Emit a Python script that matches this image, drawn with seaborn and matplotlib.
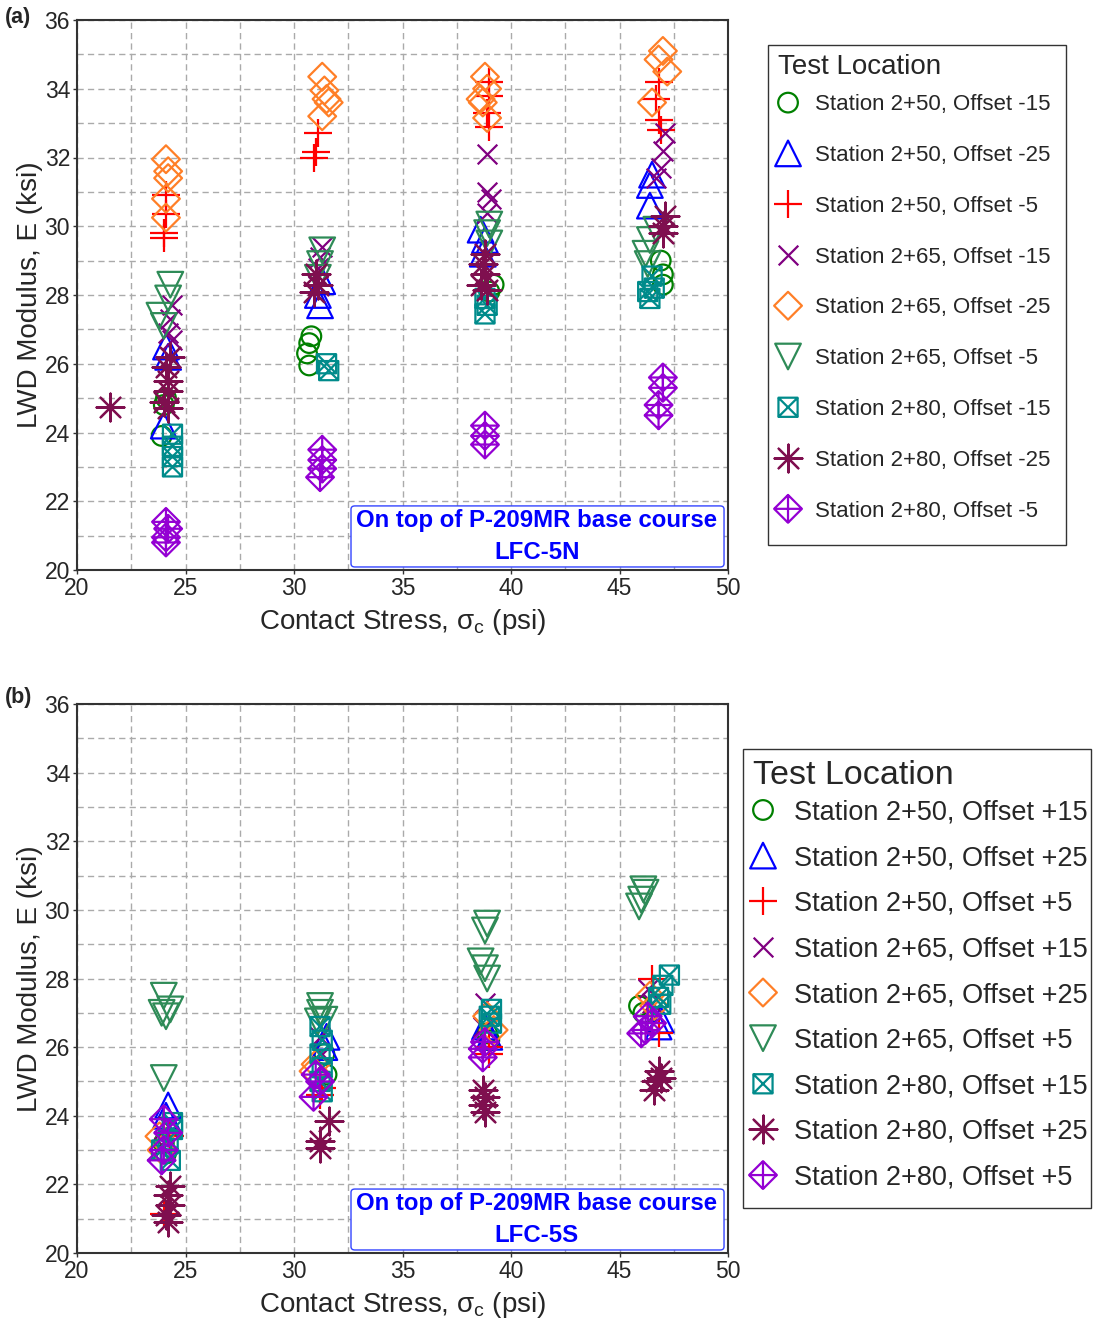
import numpy as np
import pandas as pd
import matplotlib
matplotlib.use("Agg")
import matplotlib.pyplot as plt
from matplotlib.path import Path
from matplotlib.markers import MarkerStyle
from matplotlib.patches import FancyBboxPatch, Rectangle
import seaborn as sns

# ---------------- data : panel (a) LFC-5N ----------------
A_LABELS = ["Station 2+50, Offset -15", "Station 2+50, Offset -25", "Station 2+50, Offset -5",
            "Station 2+65, Offset -15", "Station 2+65, Offset -25", "Station 2+65, Offset -5",
            "Station 2+80, Offset -15", "Station 2+80, Offset -25", "Station 2+80, Offset -5"]

a_s250_o15_x = [24.0, 23.9, 24.1, 30.8, 30.7, 30.6, 30.7, 39.2, 39.0, 46.9, 47.0, 47.0]
a_s250_o15_y = [24.8, 23.9, 25.0, 26.8, 26.6, 26.3, 25.95, 28.3, 28.1, 29.0, 28.6, 28.3]
a_s250_o25_x = [24.1, 24.2, 24.0, 31.3, 31.1, 31.2, 38.6, 38.8, 38.7, 46.5, 46.4, 46.4]
a_s250_o25_y = [26.5, 26.2, 24.2, 28.4, 28.0, 27.7, 29.9, 29.6, 29.2, 31.5, 31.2, 30.6]
a_s250_o5_x = [24.1, 24.1, 24.0, 24.0, 31.1, 31.0, 30.9, 39.0, 39.0, 38.9, 39.0, 46.8, 46.7, 46.8, 46.9]
a_s250_o5_y = [30.9, 30.35, 29.8, 29.65, 32.7, 32.15, 32.0, 34.2, 33.8, 33.3, 32.9, 34.2, 33.7, 33.1, 32.8]
a_s265_o15_x = [24.4, 24.3, 24.2, 24.4, 31.3, 31.2, 31.1, 38.9, 38.9, 39.1, 38.9, 47.1, 47.0, 46.9, 46.7]
a_s265_o15_y = [27.7, 27.3, 26.9, 26.7, 29.4, 29.1, 28.8, 32.1, 31.0, 30.8, 30.4, 32.7, 32.2, 31.7, 31.4]
a_s265_o25_x = [24.1, 24.2, 24.2, 24.1, 24.1, 31.3, 31.4, 31.5, 31.6, 31.3, 38.8, 38.9, 38.6, 38.7, 38.9,
                47.0, 46.8, 47.2, 46.5]
a_s265_o25_y = [31.95, 31.6, 31.4, 30.8, 30.25, 34.35, 33.95, 33.7, 33.6, 33.2, 34.35, 34.0, 33.7, 33.6, 33.15,
                35.1, 34.85, 34.5, 33.6]
a_s265_o5_x = [24.3, 24.2, 23.8, 24.0, 31.3, 31.2, 31.1, 39.0, 38.9, 39.0, 46.7, 46.4, 46.2, 46.3]
a_s265_o5_y = [28.3, 27.9, 27.4, 27.1, 29.3, 28.9, 28.5, 30.05, 29.8, 29.5, 29.9, 29.6, 29.2, 28.9]
a_s280_o15_x = [24.4, 24.4, 24.4, 24.4, 31.5, 31.6, 38.8, 38.9, 38.8, 46.5, 46.3, 46.4, 46.6]
a_s280_o15_y = [23.95, 23.6, 23.3, 23.0, 26.0, 25.8, 27.9, 27.7, 27.45, 28.55, 28.1, 27.9, 28.2]
a_s280_o25_x = [21.5, 24.3, 24.1, 24.2, 24.2, 24.0, 24.2, 31.0, 31.1, 30.9, 38.8, 38.7, 38.8, 38.6, 38.9,
                47.1, 47.0, 47.0]
a_s280_o25_y = [24.75, 26.2, 25.9, 25.5, 25.2, 24.9, 24.7, 28.6, 28.3, 28.1, 29.2, 28.9, 28.6, 28.3, 28.15,
                30.3, 30.0, 29.8]
a_s280_o5_x = [24.1, 24.2, 24.1, 24.1, 31.3, 31.3, 31.3, 31.2, 38.8, 38.8, 38.8, 47.0, 47.0, 46.8, 46.8]
a_s280_o5_y = [21.4, 21.2, 20.95, 20.8, 23.5, 23.2, 22.95, 22.7, 24.2, 23.9, 23.65, 25.6, 25.3, 24.8, 24.5]

# ---------------- data : panel (b) LFC-5S ----------------
B_LABELS = ["Station 2+50, Offset +15", "Station 2+50, Offset +25", "Station 2+50, Offset +5",
            "Station 2+65, Offset +15", "Station 2+65, Offset +25", "Station 2+65, Offset +5",
            "Station 2+80, Offset +15", "Station 2+80, Offset +25", "Station 2+80, Offset +5"]

b_s250_o15_x = [24.0, 24.1, 31.4, 31.5, 38.9, 39.0, 45.9, 46.1]
b_s250_o15_y = [23.2, 22.9, 25.8, 25.2, 26.4, 26.2, 27.2, 27.0]
b_s250_o25_x = [24.2, 24.1, 31.5, 31.4, 38.8, 39.0, 46.9, 46.8]
b_s250_o25_y = [24.3, 24.0, 26.3, 26.0, 26.6, 26.3, 26.8, 26.6]
b_s250_o5_x = [24.3, 24.0, 31.3, 31.2, 39.0, 39.0, 46.5, 46.8]
b_s250_o5_y = [23.4, 21.15, 24.8, 24.6, 26.0, 25.8, 28.0, 26.4]
b_s265_o15_x = [24.2, 24.0, 31.2, 31.3, 31.2, 38.8, 38.7, 46.3, 46.5]
b_s265_o15_y = [23.7, 23.1, 26.3, 25.8, 25.0, 27.3, 26.6, 27.7, 27.3]
b_s265_o25_x = [23.8, 23.9, 31.0, 30.9, 38.9, 39.2, 46.4, 46.6]
b_s265_o25_y = [23.4, 23.0, 25.5, 25.3, 26.9, 26.5, 27.5, 27.2]
b_s265_o5_x = [24.0, 23.9, 24.1, 24.3, 24.0, 31.2, 31.2, 31.4, 31.1, 38.9, 38.8, 38.6, 38.8, 38.9,
               46.1, 46.2, 46.0, 45.9]
b_s265_o5_y = [27.5, 27.0, 26.9, 27.1, 25.1, 27.2, 27.0, 26.8, 26.75, 29.6, 29.4, 28.5, 28.3, 28.0,
               30.6, 30.5, 30.3, 30.1]
b_s280_o15_x = [24.4, 24.4, 24.2, 23.9, 24.3, 31.2, 31.3, 31.2, 31.3, 31.2, 31.3, 39.1, 39.0, 39.1,
                47.3, 47.0, 46.8, 46.9]
b_s280_o15_y = [23.8, 23.6, 23.3, 23.0, 22.7, 26.6, 26.2, 25.8, 25.4, 25.0, 24.7, 27.1, 26.9, 26.7,
                28.1, 27.8, 27.45, 27.25]
b_s280_o25_x = [24.3, 24.2, 24.3, 24.1, 24.2, 31.6, 31.2, 31.2, 38.7, 38.8, 38.7, 38.8, 46.8, 46.9, 46.7, 46.6]
b_s280_o25_y = [21.95, 21.7, 21.4, 21.1, 20.9, 23.85, 23.25, 23.05, 24.75, 24.55, 24.3, 24.1, 25.3, 25.1, 25.0, 24.75]
b_s280_o5_x = [24.0, 24.2, 24.0, 23.9, 31.0, 31.2, 30.9, 38.8, 38.7, 38.7, 46.3, 46.5, 46.2, 46.0]
b_s280_o5_y = [23.9, 23.5, 23.0, 22.7, 25.2, 25.0, 24.55, 26.15, 25.95, 25.7, 26.9, 26.7, 26.5, 26.4]

A_X = [a_s250_o15_x, a_s250_o25_x, a_s250_o5_x, a_s265_o15_x, a_s265_o25_x, a_s265_o5_x,
       a_s280_o15_x, a_s280_o25_x, a_s280_o5_x]
A_Y = [a_s250_o15_y, a_s250_o25_y, a_s250_o5_y, a_s265_o15_y, a_s265_o25_y, a_s265_o5_y,
       a_s280_o15_y, a_s280_o25_y, a_s280_o5_y]
B_X = [b_s250_o15_x, b_s250_o25_x, b_s250_o5_x, b_s265_o15_x, b_s265_o25_x, b_s265_o5_x,
       b_s280_o15_x, b_s280_o25_x, b_s280_o5_x]
B_Y = [b_s250_o15_y, b_s250_o25_y, b_s250_o5_y, b_s265_o15_y, b_s265_o25_y, b_s265_o5_y,
       b_s280_o15_y, b_s280_o25_y, b_s280_o5_y]

X_TICKS = [20, 25, 30, 35, 40, 45, 50]
Y_TICKS = [20, 22, 24, 26, 28, 30, 32, 34, 36]

# ---------------- styles ----------------
COLORS = ["#008000", "#0000FF", "#FF0000", "#800080", "#FF7F27", "#2E8B57", "#008B8B", "#7F0F4F", "#9400D3"]

box_x = Path([(-1, -1), (1, -1), (1, 1), (-1, 1), (-1, -1), (-1, -1), (1, 1), (-1, 1), (1, -1)],
             [Path.MOVETO, Path.LINETO, Path.LINETO, Path.LINETO, Path.CLOSEPOLY,
              Path.MOVETO, Path.LINETO, Path.MOVETO, Path.LINETO])
diamond_plus = Path([(0, 1), (1, 0), (0, -1), (-1, 0), (0, 1), (0, 1), (0, -1), (-1, 0), (1, 0)],
                    [Path.MOVETO, Path.LINETO, Path.LINETO, Path.LINETO, Path.CLOSEPOLY,
                     Path.MOVETO, Path.LINETO, Path.MOVETO, Path.LINETO])

MARKERS = [MarkerStyle("o", fillstyle="none"), MarkerStyle("^", fillstyle="none"), MarkerStyle("+"),
           MarkerStyle("x"), MarkerStyle("D", fillstyle="none"), MarkerStyle("v", fillstyle="none"),
           MarkerStyle(box_x, fillstyle="none"), MarkerStyle((8, 2, 0)),
           MarkerStyle(diamond_plus, fillstyle="none")]
SIZES = [200, 340, 400, 200, 200, 340, 190, 400, 400]

sns.set_style("white")
plt.rcParams["font.family"] = ["Liberation Sans", "DejaVu Sans"]
plt.rcParams["mathtext.default"] = "regular"

W, H = 1094.0, 1325.0
fig = plt.figure(figsize=(W / 100, H / 100), dpi=100)
ax_a = fig.add_axes([77 / W, 1 - 570 / H, 651 / W, 550 / H])
ax_b = fig.add_axes([77 / W, 1 - 1253 / H, 651 / W, 549 / H])


def draw_panel(ax, labels, xs, ys, note, frame_px, title_px, title_fs, rows_center_px, leg_left_px,
               leg_fs, labelspacing, handletextpad, handlelength):
    for i, lab in enumerate(labels):
        df = pd.DataFrame({"stress": xs[i], "E": ys[i]})
        sns.scatterplot(data=df, x="stress", y="E", ax=ax, marker=MARKERS[i], color=COLORS[i],
                        s=SIZES[i], linewidth=1.6, label=lab, legend=False, zorder=3)
    ax.set_xlim(20, 50)
    ax.set_ylim(20, 36)
    ax.set_xticks(X_TICKS)
    ax.set_yticks(Y_TICKS)
    ax.set_xticks(np.arange(22.5, 50, 5), minor=True)
    ax.set_yticks(np.arange(21, 36, 2), minor=True)
    ax.grid(True, which="both", linestyle=(0, (4.5, 3)), color="#AAAAAA", linewidth=1.0)
    ax.set_axisbelow(True)
    ax.tick_params(which="major", direction="out", length=3, width=1, labelsize=16.5, pad=2,
                   bottom=True, left=True, color="#333333")
    ax.tick_params(which="minor", length=0)
    for sp in ax.spines.values():
        sp.set_visible(True)
        sp.set_color("#333333")
        sp.set_linewidth(1.5)
    ax.set_xlabel("Contact Stress, σ$_\\mathregular{c}$ (psi)", fontsize=20, labelpad=5)
    ax.set_ylabel("LWD Modulus, E (ksi)", fontsize=20, labelpad=1)
    ax.add_patch(FancyBboxPatch((0.4209, 0.0055), 0.5730, 0.111, transform=ax.transAxes,
                                boxstyle="round,pad=0,rounding_size=0.006", facecolor="white",
                                edgecolor="#3344FF", linewidth=1.0, zorder=4))
    ax.text(0.7066, 0.061, "On top of P-209MR base course\n" + note, transform=ax.transAxes,
            ha="center", va="center", multialignment="center", fontsize=17.3, fontweight="bold",
            color="#0000FF", linespacing=1.5, zorder=5)

    # legend frame + title
    x0, y0, x1, y1 = frame_px
    fig.patches.append(Rectangle((x0 / W, 1 - y1 / H), (x1 - x0) / W, (y1 - y0) / H,
                                 transform=fig.transFigure, facecolor="white",
                                 edgecolor="#333333", linewidth=1.0, zorder=-1))
    fig.text(title_px[0] / W, 1 - title_px[1] / H, "Test Location", fontsize=title_fs,
             ha="left", va="center", zorder=3)
    leg = ax.legend(loc="center left", bbox_to_anchor=(leg_left_px / W, 1 - rows_center_px / H),
                    bbox_transform=fig.transFigure, borderaxespad=0, borderpad=0,
                    fontsize=leg_fs, frameon=False, scatterpoints=1, scatteryoffsets=[0.5],
                    handlelength=handlelength, handletextpad=handletextpad,
                    labelspacing=labelspacing)
    leg.set_zorder(5)


draw_panel(ax_a, A_LABELS, A_X, A_Y, "LFC-5N", (768, 45, 1066, 545), (778, 67), 20,
           308, 775.8, 16, 1.34, 0.67, 1.1)
draw_panel(ax_b, B_LABELS, B_X, B_Y, "LFC-5S", (743, 749, 1091, 1208), (753, 775), 24.5,
           995, 750.8, 19.5, 0.725, 0.69, 0.9)

fig.text(0.004, 0.987, "(a)", fontsize=15.5, fontweight="bold", va="center", ha="left")
fig.text(0.004, 0.4735, "(b)", fontsize=15.5, fontweight="bold", va="center", ha="left")

fig.savefig("out.png", dpi=100)
